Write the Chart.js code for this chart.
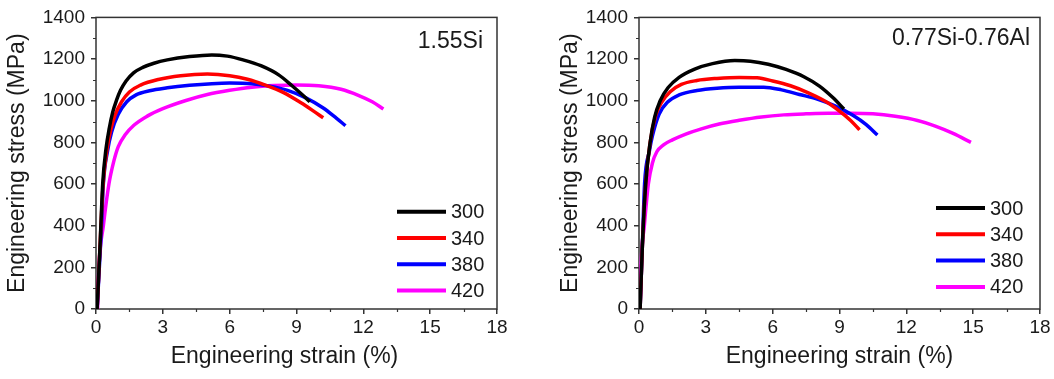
<!DOCTYPE html>
<html>
<head>
<meta charset="utf-8">
<script src="https://cdn.jsdelivr.net/npm/chart.js@4.4.1/dist/chart.umd.min.js"></script>
<style>
  body { margin: 0; background: #fff; }
  #wrap { position: relative; width: 1054px; height: 379px; }
  canvas { position: absolute; top: 0; }
</style>
</head>
<body>
<div id="wrap">
  <canvas id="left" width="527" height="379" style="left:0"></canvas>
  <canvas id="right" width="527" height="379" style="left:527px"></canvas>
</div>
<script>
// legend labels (temperatures) and colours
const temps = ["300", "340", "380", "420"];
const lineColors = ["#000000", "#ff0000", "#0000ff", "#ff00ff"];

// axis ticks
const xMajor = [0, 3, 6, 9, 12, 15, 18];
const xMinor = [1.5, 4.5, 7.5, 10.5, 13.5, 16.5];
const yMajor = [0, 200, 400, 600, 800, 1000, 1200, 1400];
const yMinor = [100, 300, 500, 700, 900, 1100, 1300];

// 1.55Si panel: [strain %, stress MPa]
const si300 = [[0.05,0],[0.18,300],[0.3,600],[0.45,770],[0.6,870],[0.75,945],[0.93,1005],[1.1,1050],[1.35,1095],[1.7,1135],[2.1,1160],[2.6,1180],[3.2,1196],[4.2,1212],[5.2,1220],[5.9,1214],[6.6,1196],[7.4,1168],[8.2,1124],[8.8,1072],[9.3,1025],[9.6,995]];
const si340 = [[0.05,0],[0.18,300],[0.32,600],[0.5,770],[0.65,855],[0.85,930],[1.15,995],[1.5,1042],[2.0,1075],[2.8,1102],[3.8,1120],[5.0,1128],[6.0,1120],[6.8,1103],[7.6,1075],[8.4,1040],[9.2,990],[9.7,955],[10.2,918]];
const si380 = [[0.05,0],[0.15,200],[0.25,400],[0.33,600],[0.52,760],[0.7,850],[1.0,935],[1.38,995],[1.8,1028],[2.4,1048],[3.2,1062],[4.2,1074],[5.2,1082],[6.0,1085],[7.0,1082],[7.8,1070],[8.6,1050],[9.4,1015],[10.2,965],[10.8,915],[11.2,880]];
const si420 = [[0.07,0],[0.13,200],[0.33,400],[0.58,600],[0.8,710],[1.0,780],[1.3,835],[1.7,882],[2.3,926],[3.0,962],[4.0,1000],[5.0,1030],[6.0,1050],[7.0,1065],[8.0,1073],[9.0,1076],[10.0,1072],[11.0,1055],[11.8,1025],[12.4,995],[12.9,960]];

// 0.77Si-0.76Al panel
const al300 = [[0.05,0],[0.15,300],[0.3,600],[0.5,800],[0.7,920],[0.95,1000],[1.3,1062],[1.8,1112],[2.5,1152],[3.3,1178],[4.3,1193],[5.0,1190],[5.8,1175],[6.6,1150],[7.4,1115],[8.1,1070],[8.7,1015],[9.2,960]];
const al340 = [[0.05,0],[0.15,300],[0.3,600],[0.5,800],[0.75,930],[1.0,990],[1.4,1043],[1.9,1078],[2.6,1097],[3.5,1107],[4.5,1112],[5.3,1110],[6.0,1095],[6.8,1072],[7.6,1038],[8.4,995],[9.0,950],[9.5,905],[9.9,860]];
const al380 = [[0.05,0],[0.15,300],[0.25,600],[0.47,760],[0.6,830],[0.9,935],[1.3,995],[1.8,1028],[2.6,1049],[3.5,1060],[4.5,1065],[5.6,1065],[6.4,1052],[7.2,1030],[8.0,1008],[8.8,975],[9.6,930],[10.2,885],[10.7,835]];
const al420 = [[0.05,0],[0.09,200],[0.24,400],[0.42,600],[0.6,700],[0.8,755],[1.1,788],[1.5,812],[2.1,840],[2.8,865],[3.6,888],[4.5,906],[5.5,922],[6.5,932],[7.5,937],[8.5,940],[9.5,940],[10.5,937],[11.5,925],[12.5,905],[13.3,878],[14.1,843],[14.9,800]];

const textColor = "#1a1a1a";
const axisColor = "#333333";
const fontFamily = "'Liberation Sans', Arial, sans-serif";

// frame, minor ticks, legend, x title and panel name
const decorations = {
  id: "decorations",
  beforeDatasetsDraw(chart) {
    const { ctx, chartArea: a } = chart;
    ctx.save();
    ctx.strokeStyle = axisColor;
    ctx.lineWidth = 1.5;
    ctx.strokeRect(a.left, a.top, a.right - a.left, a.bottom - a.top);
    ctx.restore();
  },
  afterDraw(chart, args, opts) {
    const { ctx, chartArea: a, scales: { x, y } } = chart;
    ctx.save();
    ctx.strokeStyle = axisColor;
    ctx.lineWidth = 1.2;
    ctx.beginPath();
    xMinor.forEach(v => {
      const px = Math.round(x.getPixelForValue(v)) + 0.5;
      ctx.moveTo(px, a.bottom); ctx.lineTo(px, a.bottom + 3);
    });
    yMinor.forEach(v => {
      const py = Math.round(y.getPixelForValue(v)) + 0.5;
      ctx.moveTo(a.left, py); ctx.lineTo(a.left - 3, py);
    });
    ctx.stroke();

    // legend
    ctx.font = "20px " + fontFamily;
    ctx.textBaseline = "middle";
    ctx.textAlign = "left";
    chart.data.datasets.forEach((ds, i) => {
      const yy = opts.legendTop + i * 26.3;
      ctx.strokeStyle = ds.borderColor;
      ctx.lineWidth = 4;
      ctx.beginPath();
      ctx.moveTo(a.right - opts.legendRight, yy);
      ctx.lineTo(a.right - opts.legendRight + 49, yy);
      ctx.stroke();
      ctx.fillStyle = textColor;
      ctx.fillText(ds.label, a.right - opts.legendRight + 54, yy + 1);
    });

    // x axis title
    ctx.font = "23px " + fontFamily;
    ctx.textAlign = "center";
    ctx.fillText("Engineering strain (%)", (a.left + a.right) / 2 + opts.xTitleShift, 357);

    // panel name
    ctx.textAlign = "right";
    ctx.fillText(opts.name, a.right - opts.nameRight, opts.nameY);
    ctx.restore();
  }
};

function makePanel(id, series, cfg) {
  const datasets = series.map((pts, i) => ({
    label: temps[i],
    data: pts.map(p => ({ x: p[0], y: p[1] })),
    borderColor: lineColors[i],
    borderWidth: 3.5,
    pointRadius: 0,
    showLine: true,
    cubicInterpolationMode: "monotone",
    fill: false
  }));
  return new Chart(document.getElementById(id), {
    type: "scatter",
    data: { datasets: datasets },
    plugins: [decorations],
    options: {
      responsive: false,
      animation: false,
      layout: { padding: { left: 0, top: 14, right: cfg.padRight, bottom: 0 } },
      plugins: {
        legend: { display: false },
        tooltip: { enabled: false },
        decorations: cfg
      },
      scales: {
        x: {
          type: "linear", min: 0, max: 18,
          afterBuildTicks: s => { s.ticks = xMajor.map(v => ({ value: v })); },
          afterFit: s => { s.height = 70; },
          border: { display: false },
          grid: { drawOnChartArea: false, drawTicks: true, tickLength: 5, color: axisColor, lineWidth: 1.5 },
          ticks: { color: textColor, font: { family: fontFamily, size: 19 }, padding: 2, maxRotation: 0,
                   callback: v => String(v) },
          title: { display: false }
        },
        y: {
          type: "linear", min: 0, max: 1400,
          afterBuildTicks: s => { s.ticks = yMajor.map(v => ({ value: v })); },
          afterFit: s => { s.width = cfg.yWidth; },
          border: { display: false },
          grid: { drawOnChartArea: false, drawTicks: true, tickLength: 5, color: axisColor, lineWidth: 1.5 },
          ticks: { color: textColor, font: { family: fontFamily, size: 19 }, padding: 6,
                   callback: v => String(v) },
          title: { display: true, text: "Engineering stress (MPa)", color: textColor,
                   font: { family: fontFamily, size: 23 }, padding: { top: cfg.yTitlePad, bottom: 0 } }
        }
      }
    }
  });
}

makePanel("left", [si300, si340, si380, si420], {
  name: "1.55Si", nameRight: 14, nameY: 42,
  legendTop: 211.7, legendRight: 100, xTitleShift: -12,
  yWidth: 96, padRight: 30, yTitlePad: 4
});
makePanel("right", [al300, al340, al380, al420], {
  name: "0.77Si-0.76Al", nameRight: 10, nameY: 39,
  legendTop: 208, legendRight: 104, xTitleShift: 0,
  yWidth: 112, padRight: 14, yTitlePad: 30
});
</script>
</body>
</html>
